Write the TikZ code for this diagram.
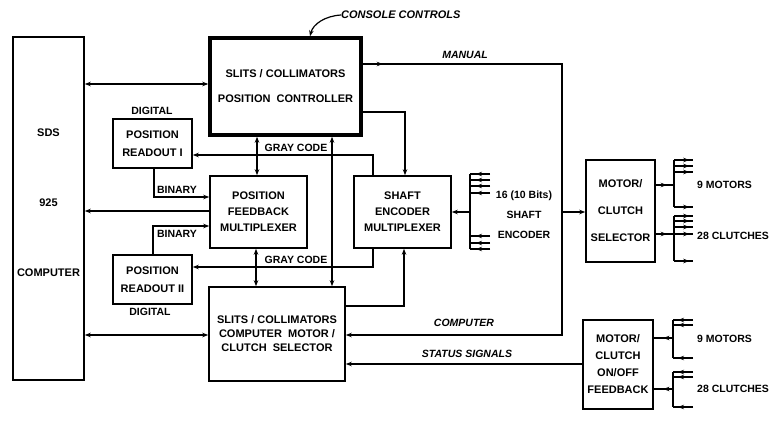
\documentclass[tikz,border=0pt]{standalone}
\usepackage{fontspec}
\setmainfont{Liberation Sans}
\usetikzlibrary{arrows.meta,decorations.markings,calc}
\begin{document}
\begin{tikzpicture}[x=1pt,y=-1pt,
  blk/.style={draw, line width=1.6pt, inner sep=0pt, align=center},
  conn/.style={line width=1.5pt},
  >={Stealth[length=6pt,width=4.5pt]},
  lbl/.style={font=\fontsize{10.5}{12}\selectfont\bfseries, inner sep=0pt},
  ilbl/.style={font=\fontsize{10.5}{12}\selectfont\bfseries\itshape, inner sep=0pt},
  fanmark/.style={postaction={decorate}, decoration={markings, mark=at position #1 with {\arrow{Stealth[length=6pt,width=4.5pt]}}}},
]
\useasboundingbox[fill=white] (0,0) rectangle (775,430);

% boxes
\node[blk, minimum width=71pt, minimum height=343pt] (sds) at (48.5,208.5) {};
\node[lbl, font=\fontsize{11}{70}\selectfont\bfseries, align=center] (sdst) at (48.5,203) {SDS\\925\\COMPUTER};
\node[blk, line width=3.5pt, minimum width=151pt, minimum height=97pt, font=\fontsize{11}{25}\selectfont\bfseries] (ctrl) at (285.5,86.5) {SLITS / COLLIMATORS\\POSITION\ \ CONTROLLER};
\node[blk, minimum width=79pt, minimum height=49pt, font=\fontsize{11}{18}\selectfont\bfseries] (ro1) at (152.5,143.5) {POSITION\\READOUT I};
\node[blk, minimum width=97pt, minimum height=72pt, font=\fontsize{11}{16}\selectfont\bfseries] (fbm) at (258.5,212) {POSITION\\FEEDBACK\\MULTIPLEXER};
\node[blk, minimum width=79pt, minimum height=49pt, font=\fontsize{11}{18}\selectfont\bfseries] (ro2) at (152.5,279.5) {POSITION\\READOUT II};
\node[blk, minimum width=136pt, minimum height=94pt, font=\fontsize{11}{14}\selectfont\bfseries] (cms) at (277,334) {SLITS / COLLIMATORS\\COMPUTER\ \ MOTOR /\\CLUTCH\ \ SELECTOR};
\node[blk, minimum width=97pt, minimum height=72pt, font=\fontsize{11}{16}\selectfont\bfseries] (sem) at (402.5,212) {SHAFT\\ENCODER\\MULTIPLEXER};
\node[blk, minimum width=69pt, minimum height=102pt, font=\fontsize{11}{27}\selectfont\bfseries] (mcs) at (620.5,211) {MOTOR/\\CLUTCH\\SELECTOR};
\node[blk, minimum width=70pt, minimum height=89pt, font=\fontsize{11}{17}\selectfont\bfseries] (fb) at (618,364.5) {MOTOR/\\CLUTCH\\ON/OFF\\FEEDBACK};

% labels
\node[ilbl, font=\fontsize{11}{12}\selectfont\bfseries\itshape, anchor=west] (cc) at (341,15) {CONSOLE CONTROLS};
\node[ilbl] (man) at (465,55) {MANUAL};
\node[ilbl] (comp) at (464,323) {COMPUTER};
\node[ilbl] (stat) at (467,354) {STATUS SIGNALS};
\node[lbl] (gc1) at (296,148) {GRAY CODE};
\node[lbl] (gc2) at (296,260) {GRAY CODE};
\node[lbl] (bin1) at (177,190) {BINARY};
\node[lbl] (bin2) at (177,234) {BINARY};
\node[lbl] (dig1) at (152,111) {DIGITAL};
\node[lbl] (dig2) at (150,312) {DIGITAL};
\node[lbl, align=center, font=\fontsize{10.5}{20}\selectfont\bfseries] (sen) at (524,215) {16 (10 Bits)\\SHAFT\\ENCODER};
\node[lbl, anchor=west] (m9a) at (697,185) {9 MOTORS};
\node[lbl, anchor=west] (c28a) at (697,236) {28 CLUTCHES};
\node[lbl, anchor=west] (m9b) at (697,339) {9 MOTORS};
\node[lbl, anchor=west] (c28b) at (697,389) {28 CLUTCHES};

% console controls pointer
\draw[conn, line width=1.2pt, ->] (cc.west) .. controls (325,16) and (313,24) .. (ctrl.north -| 310,0);

% left side connectors
\draw[conn,<->] (sds.east |- 0,84) -- (ctrl.west |- 0,84);
\draw[conn,->] (fbm.west |- 0,211) -- (sds.east |- 0,211);
\draw[conn,<->] (sds.east |- 0,335) -- (cms.west |- 0,335);
\draw[conn,->] (ro1.south -| 154,0) |- (fbm.west |- 0,197);
\draw[conn,->] (ro2.north -| 153,0) |- (fbm.west |- 0,226);
\draw[conn,<->] (ctrl.south -| 257,0) -- (fbm.north -| 257,0);
\draw[conn,<->] (fbm.south -| 256,0) -- (cms.north -| 256,0);
\draw[conn,<->] (ctrl.south -| 332,0) -- (cms.north -| 332,0);
\draw[conn,->] (sem.north -| 373,0) |- (ro1.east |- 0,155);
\draw[conn,->] (sem.south -| 373,0) |- (ro2.east |- 0,267);
\draw[conn,->] (ctrl.east |- 0,112) -| (sem.north -| 405,0);
\draw[conn,->] (cms.east |- 0,306) -| (sem.south -| 404,0);

% manual / computer loop
\coordinate (mtop) at (562,64);
\coordinate (mbot) at (562,335);
\coordinate (mj) at (562,212);
\draw[conn,->,fanmark=20pt] (ctrl.east |- mtop) -- (mtop) -- (mbot) -- (cms.east |- mbot);
\draw[conn,->] (mj) -- (mcs.west |- mj);
\draw[conn,->] (fb.west |- 0,364) -- (cms.east |- 0,364);

% shaft encoder fan
\coordinate (sej) at (470,212);
\draw[conn,->] (sej) -- (sem.east |- sej);
\foreach \y [count=\i] in {174,180,186,193,236,243,249} {\coordinate (sef\i) at (470,\y);}
\draw[conn] (sef1) -- (sef7);
\foreach \i in {1,...,7} {\draw[conn,fanmark=0.7] ($(sef\i)+(20,0)$) -- (sef\i);}

% motor/clutch selector fans
\coordinate (ma) at (674,185);
\draw[conn,fanmark=0.6] (mcs.east |- ma) -- (ma);
\foreach \y [count=\i] in {160,166,172,207} {\coordinate (mo\i) at (674,\y);}
\draw[conn] (mo1) -- (mo4);
\foreach \i in {1,...,4} {\draw[conn,fanmark=0.8] (mo\i) -- ($(mo\i)+(19,0)$);}
\foreach \y [count=\i] in {216,221,227,234,261} {\coordinate (cl\i) at (674,\y);}
\draw[conn] (cl1) -- (cl5);
\draw[conn,fanmark=0.6] (mcs.east |- cl4) -- (cl4);
\foreach \i in {1,...,5} {\draw[conn,fanmark=0.8] (cl\i) -- ($(cl\i)+(19,0)$);}

% feedback fans
\foreach \y [count=\i] in {320,325,358} {\coordinate (fmo\i) at (673,\y);}
\draw[conn] (fmo1) -- (fmo3);
\coordinate (fm) at (673,338);
\draw[conn,fanmark=0.5] (fm) -- (fb.east |- fm);
\foreach \i in {1,...,3} {\draw[conn,fanmark=0.75] ($(fmo\i)+(20,0)$) -- (fmo\i);}
\foreach \y [count=\i] in {372,377,407} {\coordinate (fcl\i) at (673,\y);}
\draw[conn] (fcl1) -- (fcl3);
\coordinate (fc) at (673,389);
\draw[conn,fanmark=0.5] (fc) -- (fb.east |- fc);
\foreach \i in {1,...,3} {\draw[conn,fanmark=0.75] ($(fcl\i)+(20,0)$) -- (fcl\i);}
\end{tikzpicture}
\end{document}
